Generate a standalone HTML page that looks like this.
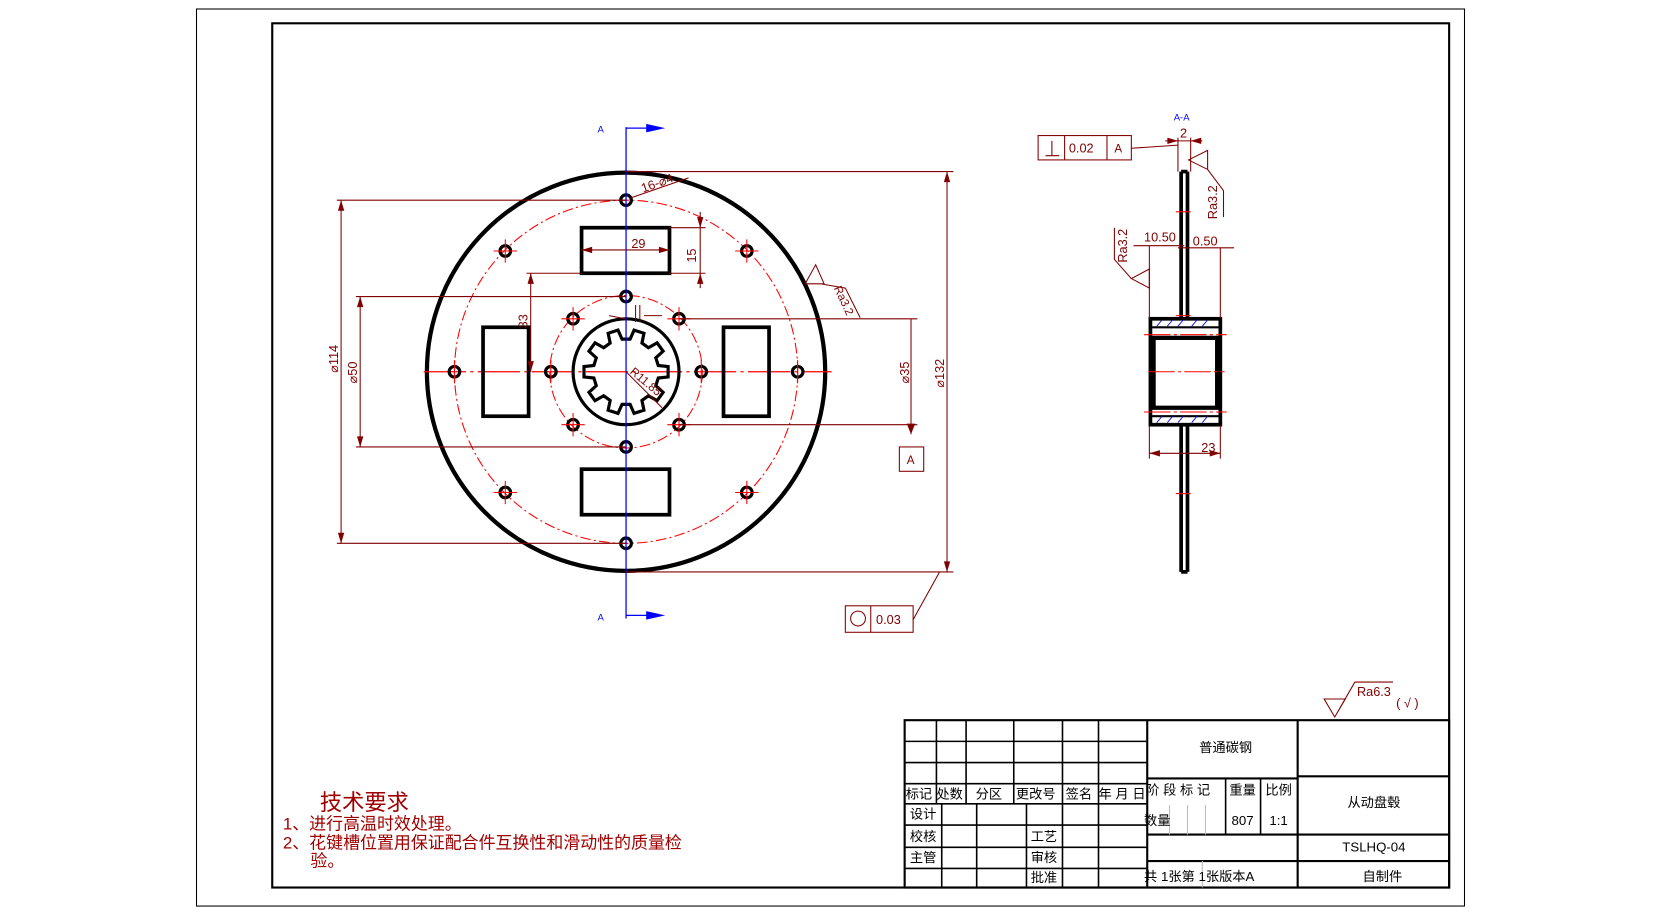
<!DOCTYPE html>
<html><head><meta charset="utf-8"><style>
html,body{margin:0;padding:0;background:#fff;}
svg{display:block;}
text{font-family:"Liberation Sans","Noto Sans CJK SC",sans-serif;}
.d{stroke:#800000;stroke-width:1;fill:none;}
.t{fill:#800000;font-size:12px;}
.k{stroke:#000;fill:none;}
.c{fill:#000;font-size:12.5px;font-family:"Liberation Sans","Noto Sans CJK SC",sans-serif;}
</style></head><body>
<svg width="1661" height="914" viewBox="0 0 1568 863" preserveAspectRatio="none" xmlns="http://www.w3.org/2000/svg">
<rect x="185.5" y="8.5" width="1197" height="847" fill="none" stroke="#000" stroke-width="1"/>
<rect x="257" y="22" width="1111" height="816" fill="none" stroke="#000" stroke-width="2"/>

<circle cx="591" cy="351" r="188" class="k" stroke-width="4"/>
<circle cx="591" cy="351" r="162" fill="none" stroke="#f00" stroke-width="1" stroke-dasharray="10,3,2,3"/>
<circle cx="591" cy="351" r="72" fill="none" stroke="#f00" stroke-width="1" stroke-dasharray="10,3,2,3"/>
<line x1="400" y1="351" x2="785" y2="351" stroke="#f00" stroke-width="1.2" stroke-dasharray="40,4,3,4"/>
<g class="k" stroke-width="3.5">
<rect x="549" y="215" width="83" height="43"/>
<rect x="549" y="443" width="83" height="43"/>
<rect x="456" y="309" width="43" height="84"/>
<rect x="683" y="309" width="43" height="84"/>
<circle cx="591" cy="351" r="50" stroke-width="3"/>
</g>
<g class="k" stroke-width="3">
<circle cx="591" cy="189" r="5"/><circle cx="705" cy="237" r="5"/><circle cx="753" cy="351" r="5"/><circle cx="705" cy="465" r="5"/>
<circle cx="591" cy="513" r="5"/><circle cx="477" cy="465" r="5"/><circle cx="429" cy="351" r="5"/><circle cx="477" cy="237" r="5"/>
<circle cx="591" cy="280" r="5"/><circle cx="641" cy="301" r="5"/><circle cx="662" cy="351" r="5"/><circle cx="641" cy="401" r="5"/>
<circle cx="591" cy="422" r="5"/><circle cx="541" cy="401" r="5"/><circle cx="520" cy="351" r="5"/><circle cx="541" cy="301" r="5"/>
</g>
<g stroke="#f00" stroke-width="1">
<path d="M466 237h22M477 226v22M694 237h22M705 226v22M694 465h22M705 454v22M466 465h22M477 454v22M530 301h22M541 290v22M630 301h22M641 290v22M630 401h22M641 390v22M530 401h22M541 390v22M662 340v22M753 340v22M520 340v22M429 340v22"/>
</g>
<path id="spl" class="k" stroke-width="3" d=""/>
<line x1="591" y1="120" x2="591" y2="584" stroke="#00f" stroke-width="1.2"/>
<line x1="591" y1="121" x2="615" y2="121" stroke="#00f" stroke-width="1.2"/>
<polygon points="610,117 628,121 610,125" fill="#00f"/>
<line x1="591" y1="581" x2="615" y2="581" stroke="#00f" stroke-width="1.2"/>
<polygon points="610,577 628,581 610,585" fill="#00f"/>
<text x="564" y="125" fill="#00f" font-size="9">A</text>
<text x="564" y="586" fill="#00f" font-size="9">A</text>

<g class="d">
<path d="M591 162H900M591 540H900M894 162V540"/>
<path d="M318 189H591M318 513H591M322 189V513"/>
<path d="M336 280H591M336 422H591M340 280V422"/>
<path d="M641 301H866M641 401H866M860 301V410"/>
<path d="M549 236H632M632 215H666M632 258H666M661 200V272"/>
<path d="M497 258H549M501 258V351"/>
<path d="M595 187L650 168"/>
<path d="M591 351L625 385"/>
<path d="M575 298L590 301M608 298L625 298M600 288V304M604 288V304"/>
<rect x="849" y="422" width="23" height="23"/>
<path d="M760 268L770 250L778 268ZM775 268L798 272L812 300"/>
<rect x="798" y="572" width="64" height="25"/><path d="M822 572V597M862 585L887 540"/>
</g>
<circle cx="810" cy="584" r="7" class="d"/>
<polygon points="856,400 864,400 860,410" fill="#800000"/>
<g fill="#800000">
<polygon points="894,162 891,172 897,172"/><polygon points="894,540 891,530 897,530"/>
<polygon points="322,189 319,199 325,199"/><polygon points="322,513 319,503 325,503"/>
<polygon points="340,280 337,290 343,290"/><polygon points="340,422 337,412 343,412"/>
<polygon points="549,236 559,233 559,239"/><polygon points="632,236 622,233 622,239"/>
<polygon points="661,215 658,205 664,205"/><polygon points="661,258 658,268 664,268"/>
<polygon points="501,258 498,268 504,268"/><polygon points="501,351 498,341 504,341"/>
</g>
<g class="t">
<text x="596" y="234">29</text>
<text transform="translate(657,248) rotate(-90)">15</text>
<text transform="translate(498,310) rotate(-90)">33</text>
<text transform="translate(319,352) rotate(-90)">⌀114</text>
<text transform="translate(337,362) rotate(-90)">⌀50</text>
<text transform="translate(858,362) rotate(-90)">⌀35</text>
<text transform="translate(891,366) rotate(-90)">⌀132</text>
<text transform="translate(607,182) rotate(-20)">16-⌀4</text>
<text transform="translate(594,352) rotate(40)" font-size="11">R11.85</text>
<text transform="translate(787,272) rotate(65)" font-size="11">Ra3.2</text>
<text x="856" y="438" font-size="11">A</text>
<text x="827" y="589">0.03</text>
</g>

<text x="1108" y="114" fill="#00f" font-size="9">A-A</text>
<g class="k" stroke-width="3.5">
<path d="M1115 162V300M1121 162V300M1115 162H1121M1115 402V540M1121 402V540M1115 540H1121"/>
<rect x="1086" y="301" width="66" height="100"/>
<rect x="1089" y="319" width="60" height="66" stroke-width="4"/>
</g>
<path d="M1087 309H1151M1087 393H1151" stroke="#000" stroke-width="2"/>
<g stroke="#00f" stroke-width="0.8">
<path d="M1092 308l5-6M1102 308l5-6M1112 308l5-6M1125 308l5-6M1135 308l5-6M1092 399l5-6M1102 399l5-6M1112 399l5-6M1125 399l5-6M1135 399l5-6"/>
</g>
<g stroke="#f00" stroke-width="1">
<path d="M1080 316H1158M1080 389H1158M1084 351H1156" stroke-dasharray="25,3,3,3"/>
<path d="M1110 200h14M1110 298h14M1110 466h14"/>
</g>
<g class="d">
<path d="M1112 130V162M1124 130V162M1100 133H1135"/>
<rect x="980" y="128" width="88" height="23"/><path d="M1005 128V151M1045 128V151M1068 140L1112 137"/>
<path d="M987 147H1000M993 133V147"/>
<path d="M1122 151L1140 142L1140 160ZM1140 160L1155 180V205"/>
<path d="M1068 263L1085 254L1085 272ZM1068 263L1052 245V215"/>
<path d="M1070 232H1118M1112 234H1165M1085 232V300M1152 234V300"/>
<path d="M1085 402V433M1152 402V433M1085 428H1152"/>
</g>
<g fill="#800000">
<polygon points="1112,133 1102,130 1102,136"/><polygon points="1124,133 1134,130 1134,136"/>
<polygon points="1085,428 1095,425 1095,431"/><polygon points="1152,428 1142,425 1142,431"/>
</g>
<g class="t">
<text x="1114" y="130">2</text>
<text x="1009" y="144">0.02</text>
<text x="1052" y="144" font-size="11">A</text>
<text transform="translate(1149,207) rotate(-90)">Ra3.2</text>
<text transform="translate(1064,248) rotate(-90)">Ra3.2</text>
<text x="1080" y="228">10.50</text>
<text x="1126" y="232">0.50</text>
<text x="1134" y="427">23</text>
</g>

<path d="M1250 660H1270L1260 677ZM1260 677L1279 644H1315" class="d"/>
<text x="1281" y="657" class="t" font-size="11">Ra6.3</text>
<text x="1318" y="668" class="t" font-size="17">( √ )</text>

<g fill="#a00000" font-family="'Liberation Sans','Noto Sans CJK SC',sans-serif">
<text x="302" y="765" font-size="21">技术要求</text>
<text x="267" y="783" font-size="16">1、进行高温时效处理。</text>
<text x="267" y="801" font-size="16">2、花键槽位置用保证配合件互换性和滑动性的质量检</text>
<text x="293" y="818" font-size="16">验。</text>
</g>

<g stroke="#000" stroke-width="1.5" fill="none">
<rect x="854" y="680" width="514" height="158" stroke-width="2"/>
<path d="M854 700H1083M854 720H1083M854 740H1083M854 759H1083M854 779H1083M854 800H1083M854 820H1083" />
<path d="M884 680V759M912 680V759M957 680V759M1003 680V759M1037 680V759"/>
<path d="M889 759V838M922 759V838M969 759V838M1003 759V838M1037 759V838"/>
<path d="M1083 680V838M1225 680V838" stroke-width="2"/>
<path d="M1083 735H1225M1083 788H1368M1083 813H1368M1225 733H1368" stroke-width="2"/>
<path d="M1157 735V788M1190 735V788"/>
</g>
<path d="M1104 760V788M1121 760V788M1138 760V788M1135 813V838" stroke="#bbb" stroke-width="1"/>
<g class="c">
<text x="1157" y="710" text-anchor="middle">普通碳钢</text>
<text x="1082" y="750">阶 段 标 记</text>
<text x="1173" y="750" text-anchor="middle">重量</text>
<text x="1207" y="750" text-anchor="middle">比例</text>
<text x="1080" y="779">数量</text>
<text x="1173" y="779" text-anchor="middle">807</text>
<text x="1207" y="779" text-anchor="middle">1:1</text>
<text x="1080" y="832">共 1张第 1张版本A</text>
<text x="1297" y="762" text-anchor="middle">从动盘毂</text>
<text x="1297" y="804" text-anchor="middle">TSLHQ-04</text>
<text x="1305" y="832" text-anchor="middle">自制件</text>
<text x="855" y="754">标记</text><text x="884" y="754">处数</text><text x="921" y="754">分区</text>
<text x="959" y="754">更改号</text><text x="1006" y="754">签名</text><text x="1037" y="754">年 月 日</text>
<text x="859" y="773">设计</text><text x="859" y="794">校核</text><text x="859" y="814">主管</text>
<text x="973" y="794">工艺</text><text x="973" y="814">审核</text><text x="973" y="833">批准</text>
</g>
</svg>
<script>
(function(){var cx=591,cy=351,d="",ro=40,ri=31,n=10;
for(var k=0;k<n;k++){var a=k*36*Math.PI/180,s=7*Math.PI/180,s2=11*Math.PI/180;
var pts=[[ri,a-s2],[ro,a-s],[ro,a+s],[ri,a+s2]];
for(var j=0;j<4;j++){var x=cx+pts[j][0]*Math.cos(pts[j][1]),y=cy+pts[j][0]*Math.sin(pts[j][1]);d+=(d?"L":"M")+x.toFixed(1)+" "+y.toFixed(1);}}
document.getElementById("spl").setAttribute("d",d+"Z");})();
</script>
</body></html>
